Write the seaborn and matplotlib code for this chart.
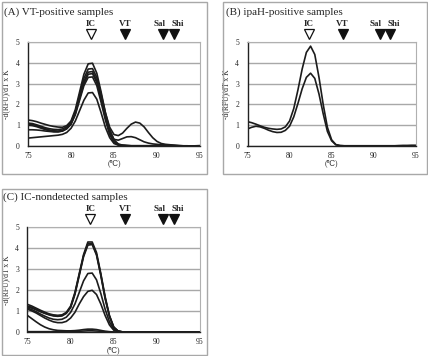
import matplotlib
matplotlib.use("Agg")
import matplotlib.pyplot as plt
import numpy as np
import pandas as pd
import seaborn as sns
from matplotlib.patches import Rectangle
from matplotlib.transforms import blended_transform_factory

temps = [75.0, 75.5, 76.0, 76.5, 77.0, 77.5, 78.0, 78.5, 79.0, 79.5,
         80.0, 80.5, 81.0, 81.5, 82.0, 82.5, 83.0, 83.5, 84.0, 84.5,
         85.0, 85.5, 86.0, 86.5, 87.0, 87.5, 88.0, 88.5, 89.0, 89.5,
         90.0, 90.5, 91.0, 91.5, 92.0, 92.5, 93.0, 93.5, 94.0, 94.5, 95.0]

# (A) VT-positive samples
vt_curves = {
    'A1': [1.25, 1.22, 1.17, 1.10, 1.04, 0.98, 0.94, 0.91, 0.90, 0.98,
           1.20, 1.75, 2.60, 3.45, 3.95, 3.98, 3.50, 2.60, 1.60, 0.80,
           0.30, 0.10, 0.04, 0.02, 0.01, 0.01, 0.01, 0.01, 0.01, 0.01,
           0.01, 0.01, 0.01, 0.01, 0.01, 0.01, 0.00, 0.00, 0.00, 0.00, 0.00],
    'A2': [1.10, 1.08, 1.02, 0.95, 0.88, 0.83, 0.80, 0.79, 0.82, 0.92,
           1.15, 1.65, 2.45, 3.25, 3.70, 3.72, 3.30, 2.50, 1.60, 0.90,
           0.55, 0.50, 0.62, 0.85, 1.05, 1.15, 1.10, 0.92, 0.65, 0.40,
           0.22, 0.12, 0.08, 0.06, 0.04, 0.02, 0.01, 0.00, 0.00, 0.00, 0.00],
    'A3': [1.05, 1.04, 0.98, 0.90, 0.83, 0.77, 0.73, 0.72, 0.75, 0.86,
           1.10, 1.60, 2.35, 3.10, 3.55, 3.58, 3.15, 2.35, 1.45, 0.70,
           0.32, 0.28, 0.36, 0.44, 0.45, 0.40, 0.30, 0.20, 0.14, 0.10,
           0.08, 0.06, 0.05, 0.04, 0.03, 0.02, 0.01, 0.01, 0.00, 0.00, 0.00],
    'A4': [1.00, 0.98, 0.93, 0.86, 0.79, 0.73, 0.70, 0.69, 0.72, 0.83,
           1.05, 1.55, 2.30, 3.00, 3.45, 3.48, 3.05, 2.25, 1.35, 0.60,
           0.20, 0.07, 0.03, 0.02, 0.01, 0.01, 0.01, 0.01, 0.01, 0.01,
           0.01, 0.01, 0.01, 0.01, 0.01, 0.00, 0.00, 0.00, 0.00, 0.01, 0.02],
    'A5': [0.78, 0.78, 0.77, 0.75, 0.72, 0.70, 0.68, 0.68, 0.72, 0.83,
           1.05, 1.50, 2.20, 2.90, 3.30, 3.32, 2.90, 2.10, 1.25, 0.55,
           0.18, 0.06, 0.03, 0.02, 0.01, 0.01, 0.01, 0.01, 0.01, 0.01,
           0.01, 0.01, 0.01, 0.00, 0.00, 0.00, 0.00, 0.00, 0.00, 0.00, 0.00],
    'A6': [0.38, 0.40, 0.42, 0.44, 0.46, 0.48, 0.50, 0.52, 0.56, 0.65,
           0.85, 1.20, 1.70, 2.20, 2.55, 2.57, 2.25, 1.60, 0.90, 0.40,
           0.12, 0.04, 0.02, 0.01, 0.01, 0.01, 0.01, 0.01, 0.01, 0.01,
           0.01, 0.01, 0.00, 0.00, 0.00, 0.00, 0.00, 0.00, 0.00, 0.00, 0.00],
}

# (B) ipaH-positive samples
ipah_curves = {
    'B1': [1.17, 1.12, 1.05, 0.97, 0.90, 0.85, 0.82, 0.80, 0.82, 0.92,
           1.20, 1.80, 2.70, 3.70, 4.50, 4.80, 4.40, 3.30, 2.00, 0.90,
           0.30, 0.07, 0.02, 0.01, 0.01, 0.01, 0.01, 0.01, 0.01, 0.01,
           0.01, 0.01, 0.01, 0.01, 0.01, 0.01, 0.02, 0.02, 0.02, 0.03, 0.03],
    'B2': [0.82, 0.90, 0.95, 0.92, 0.85, 0.76, 0.69, 0.65, 0.66, 0.75,
           0.95, 1.40, 2.05, 2.75, 3.30, 3.50, 3.25, 2.50, 1.55, 0.70,
           0.25, 0.06, 0.02, 0.01, 0.01, 0.01, 0.01, 0.01, 0.01, 0.01,
           0.01, 0.01, 0.01, 0.01, 0.01, 0.01, 0.01, 0.02, 0.02, 0.02, 0.02],
}

# (C) IC-nondetected samples
icnd_curves = {
    'C1': [1.33, 1.25, 1.15, 1.05, 0.96, 0.88, 0.83, 0.81, 0.83, 0.95,
           1.25, 1.90, 2.80, 3.70, 4.30, 4.30, 3.80, 2.80, 1.70, 0.80,
           0.25, 0.06, 0.02, 0.01, 0.01, 0.01, 0.01, 0.01, 0.01, 0.01,
           0.02, 0.02, 0.01, 0.01, 0.01, 0.01, 0.01, 0.01, 0.01, 0.01, 0.01],
    'C2': [1.25, 1.19, 1.10, 1.00, 0.92, 0.85, 0.80, 0.78, 0.80, 0.92,
           1.20, 1.85, 2.75, 3.65, 4.22, 4.22, 3.72, 2.75, 1.65, 0.78,
           0.24, 0.06, 0.02, 0.01, 0.01, 0.01, 0.01, 0.01, 0.01, 0.01,
           0.01, 0.01, 0.01, 0.01, 0.01, 0.01, 0.01, 0.01, 0.01, 0.01, 0.01],
    'C3': [1.20, 1.15, 1.07, 0.98, 0.90, 0.83, 0.78, 0.76, 0.78, 0.90,
           1.18, 1.80, 2.70, 3.60, 4.15, 4.18, 3.68, 2.70, 1.60, 0.75,
           0.23, 0.06, 0.02, 0.01, 0.01, 0.01, 0.01, 0.01, 0.01, 0.01,
           0.01, 0.01, 0.01, 0.01, 0.01, 0.01, 0.01, 0.01, 0.01, 0.01, 0.01],
    'C4': [1.15, 1.08, 0.98, 0.87, 0.77, 0.68, 0.62, 0.60, 0.62, 0.72,
           0.95, 1.35, 1.90, 2.45, 2.80, 2.82, 2.50, 1.85, 1.10, 0.50,
           0.15, 0.04, 0.01, 0.01, 0.01, 0.01, 0.01, 0.01, 0.01, 0.01,
           0.01, 0.01, 0.01, 0.01, 0.01, 0.01, 0.01, 0.01, 0.01, 0.01, 0.01],
    'C5': [1.10, 1.02, 0.92, 0.80, 0.68, 0.58, 0.50, 0.46, 0.46, 0.52,
           0.68, 0.95, 1.35, 1.70, 1.95, 2.00, 1.80, 1.35, 0.80, 0.35,
           0.10, 0.03, 0.01, 0.01, 0.01, 0.01, 0.01, 0.01, 0.01, 0.01,
           0.01, 0.01, 0.01, 0.01, 0.01, 0.01, 0.01, 0.01, 0.01, 0.01, 0.01],
    'C6': [0.80, 0.65, 0.50, 0.36, 0.25, 0.17, 0.12, 0.09, 0.08, 0.07,
           0.07, 0.08, 0.10, 0.13, 0.15, 0.15, 0.13, 0.09, 0.05, 0.03,
           0.01, 0.00, 0.00, 0.00, 0.00, 0.00, 0.00, 0.00, 0.00, 0.00,
           0.00, 0.00, 0.00, 0.00, 0.00, 0.00, 0.00, 0.00, 0.00, 0.00, 0.00],
    'C7': [0.03, 0.03, 0.03, 0.03, 0.03, 0.03, 0.03, 0.03, 0.03, 0.03,
           0.04, 0.04, 0.05, 0.06, 0.07, 0.07, 0.06, 0.05, 0.03, 0.02,
           0.01, 0.00, 0.00, 0.00, 0.00, 0.00, 0.00, 0.00, 0.00, 0.00,
           0.00, 0.00, 0.00, 0.00, 0.00, 0.00, 0.00, 0.00, 0.00, 0.00, 0.00],
}

panel_titles = ['(A) VT-positive samples', '(B) ipaH-positive samples',
                '(C) IC-nondetected samples']
peak_names = ['IC', 'VT', 'Sal', 'Shi']
peak_temps = [82.3, 86.3, 90.7, 92.0]
peak_filled = [False, True, True, True]
x_ticks = [75, 80, 85, 90, 95]
y_ticks = [0, 1, 2, 3, 4, 5]


def to_long(curves):
    rows = []
    for name, vals in curves.items():
        for t, v in zip(temps, vals):
            rows.append({'temp': t, 'value': v, 'sample': name})
    return pd.DataFrame(rows)


sns.set_style('white')
serif = ['Liberation Serif', 'DejaVu Serif']
plt.rcParams['font.family'] = serif

W, H = 428, 356
fig = plt.figure(figsize=(W / 100, H / 100), dpi=100)


def fx(px):
    return px / W


def fy(py):
    return 1 - py / H


# panel frames (pixel boxes: left, top, right, bottom)
frames = [(1.5, 1.5, 207, 174), (223, 1.5, 426.5, 174), (1.5, 189, 207, 355)]
for l, t, r, b in frames:
    fig.patches.append(Rectangle((fx(l), fy(b)), fx(r - l), (b - t) / H,
                                 transform=fig.transFigure, fill=False,
                                 edgecolor='#a8a8a8', lw=1.0))

# axes boxes in pixels (left, top, right, bottom)
axes_px = [(28, 42, 200, 146), (247.5, 42, 415.7, 146), (27.5, 227.3, 200, 332.3)]
title_px = [(4, 12), (226, 12), (3, 197)]
# label nudges (points) so Sal / Shi labels sit apart like the original
label_dx = [0, 0, -2.6, 2.4]

for idx, (curves, (l, t, r, b)) in enumerate(zip([vt_curves, ipah_curves, icnd_curves], axes_px)):
    ax = fig.add_axes([fx(l), fy(b), fx(r - l), (b - t) / H])
    df = to_long(curves)
    sns.lineplot(data=df, x='temp', y='value', units='sample', estimator=None,
                 color='#1c1c1c', lw=1.2, ax=ax, legend=False)
    ax.set_xlim(75, 95)
    ax.set_ylim(0, 5)
    ax.set_xticks(x_ticks)
    ax.set_xticks([77.5, 82.5, 87.5, 92.5], minor=True)
    ax.set_yticks(y_ticks)
    ax.yaxis.grid(True, color='#a8a8a8', lw=1.0)
    ax.set_axisbelow(True)
    ax.tick_params(axis='x', which='both', direction='in', length=2.5,
                   width=0.8, color='#333333', labelsize=5.5, pad=4)
    ax.tick_params(axis='y', length=0, labelsize=5.5, pad=6)
    for s in ['top', 'right']:
        ax.spines[s].set_color('#b0b0b0')
        ax.spines[s].set_linewidth(0.8)
    for s in ['left', 'bottom']:
        ax.spines[s].set_color('#222222')
        ax.spines[s].set_linewidth(1.0)
    ax.set_xlabel('(\u2103)', fontsize=5.5, labelpad=0, family=serif)
    ax.set_ylabel('-d(RFU)/dT x K', fontsize=5.5, labelpad=4, family=serif)

    trans = blended_transform_factory(ax.transData, ax.transAxes)
    for name, pt, filled, dx in zip(peak_names, peak_temps, peak_filled, label_dx):
        ax.plot([pt], [1.075], marker='v', ms=7.5, transform=trans, clip_on=False,
                mfc='#111111' if filled else 'white', mec='#111111', mew=0.9, ls='none')
        ax.annotate(name, xy=(pt, 1.175), xycoords=trans, xytext=(dx, 0),
                    textcoords='offset points', ha='center', va='center',
                    fontsize=6.5, fontweight='bold', family=serif,
                    annotation_clip=False)

    tx, ty = title_px[idx]
    fig.text(fx(tx), fy(ty), panel_titles[idx], ha='left', va='center',
             fontsize=8, family=serif)

fig.savefig('out.png', dpi=100)
